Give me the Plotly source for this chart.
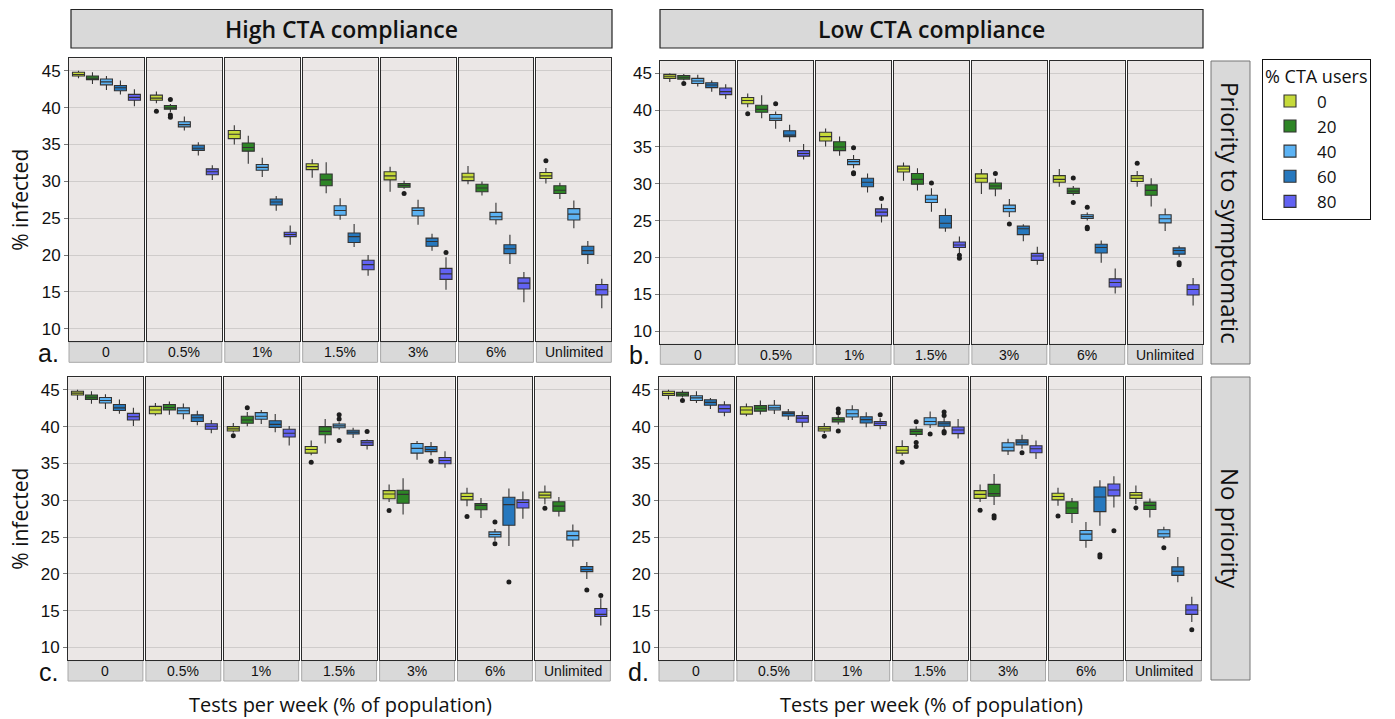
import plotly.graph_objects as go

TESTS = ["0", "0.5%", "1%", "1.5%", "3%", "6%", "Unlimited"]
USERS = ["0", "20", "40", "60", "80"]
COLORS = ["#C6DA3A", "#2E8526", "#5BB2F3", "#2678BE", "#6262F2"]

# ---------- Panel a: High CTA compliance / Priority to symptomatic ----------
A_Q1 = [[44.3, 43.8, 43.1, 42.3, 41.0], [41.0, 39.8, 37.4, 34.2, 30.9], [35.8, 34.1, 31.5, 26.8, 22.5],
        [31.6, 29.4, 25.4, 21.7, 18.0], [30.2, 29.2, 25.3, 21.2, 16.7], [30.1, 28.6, 24.8, 20.2, 15.4],
        [30.4, 28.35, 24.75, 20.1, 14.6]]
A_MED = [[44.5, 44.0, 43.5, 42.7, 41.4], [41.3, 40.0, 37.7, 34.5, 31.3], [36.4, 34.6, 31.9, 27.2, 22.8],
         [32.0, 30.2, 26.05, 22.5, 18.7], [30.75, 29.45, 26.05, 21.85, 17.45], [30.6, 29.1, 25.2, 20.85, 16.2],
         [30.75, 28.8, 25.55, 20.6, 15.3]]
A_Q3 = [[44.8, 44.3, 43.9, 43.0, 41.8], [41.7, 40.3, 38.1, 34.9, 31.7], [36.9, 35.2, 32.3, 27.6, 23.1],
        [32.4, 31.0, 26.7, 23.0, 19.3], [31.3, 29.7, 26.4, 22.3, 18.2], [31.1, 29.6, 25.8, 21.4, 16.9],
        [31.2, 29.4, 26.3, 21.2, 16.0]]
A_LO = [[44.0, 43.2, 42.4, 41.8, 40.2], [40.6, 39.4, 36.9, 33.5, 30.2], [35.0, 32.4, 30.6, 26.0, 21.4],
        [30.5, 28.4, 24.8, 21.1, 17.2], [28.6, 29.0, 24.1, 20.6, 15.3], [29.6, 28.1, 24.15, 18.8, 13.6],
        [29.7, 27.6, 23.65, 18.8, 12.8]]
A_HI = [[45.0, 44.8, 44.3, 43.7, 42.5], [42.2, 40.5, 38.8, 35.3, 32.2], [37.6, 36.2, 33.2, 28.0, 24.0],
        [33.0, 32.6, 27.7, 24.2, 20.0], [32.0, 30.1, 27.5, 22.9, 19.7], [32.1, 30.0, 27.1, 22.75, 17.7],
        [31.8, 29.8, 27.4, 21.9, 16.8]]
A_OUT = [(1, 0, 39.5), (1, 1, 41.1), (1, 1, 39.0), (1, 1, 38.7), (4, 1, 28.35), (4, 4, 20.35), (6, 0, 32.8)]

# ---------- Panel b: Low CTA compliance / Priority to symptomatic ----------
B_Q1 = [[44.3, 44.2, 43.6, 43.05, 42.1], [40.85, 39.7, 38.6, 36.4, 33.75], [35.8, 34.5, 32.6, 29.6, 25.65],
        [31.6, 29.95, 27.45, 24.0, 21.35], [30.2, 29.3, 26.2, 23.1, 19.6], [30.2, 28.7, 25.3, 20.6, 16.0],
        [30.3, 28.45, 24.7, 20.45, 14.9]]
B_MED = [[44.6, 44.45, 43.95, 43.4, 42.5], [41.3, 40.1, 38.9, 36.6, 34.1], [36.4, 35.0, 33.0, 30.2, 26.15],
         [32.0, 30.6, 27.9, 24.65, 21.7], [30.75, 29.7, 26.65, 23.9, 20.2], [30.6, 29.0, 25.55, 21.35, 16.6],
         [30.75, 29.1, 25.25, 20.95, 15.65]]
B_Q3 = [[44.85, 44.7, 44.3, 43.7, 43.0], [41.7, 40.65, 39.4, 37.2, 34.5], [37.0, 35.7, 33.3, 30.75, 26.6],
        [32.4, 31.4, 28.45, 25.7, 22.1], [31.35, 30.1, 27.1, 24.25, 20.55], [31.1, 29.4, 25.8, 21.8, 17.1],
        [31.1, 29.85, 25.8, 21.3, 16.3]]
B_LO = [[43.8, 44.0, 43.2, 42.5, 41.5], [40.4, 38.9, 37.45, 35.7, 33.3], [35.05, 33.8, 32.1, 28.8, 24.75],
        [30.4, 29.1, 26.2, 23.5, 20.6], [28.6, 28.3, 25.5, 22.2, 19.0], [29.6, 28.4, 25.0, 19.3, 15.1],
        [29.6, 26.9, 23.6, 20.05, 13.5]]
B_HI = [[45.0, 44.9, 44.8, 44.0, 43.5], [42.25, 42.0, 39.8, 38.0, 35.4], [37.5, 36.4, 33.9, 31.4, 27.3],
        [32.9, 32.1, 29.4, 26.65, 22.85], [32.0, 30.7, 27.95, 24.5, 21.45], [32.0, 29.7, 26.1, 22.3, 18.5],
        [31.75, 30.75, 26.65, 21.6, 17.2]]
B_OUT = [(0, 1, 43.6), (1, 0, 39.5), (1, 2, 40.85), (2, 2, 34.9), (2, 2, 31.5), (2, 2, 31.35), (2, 4, 28.0),
         (3, 2, 30.1), (3, 4, 20.3), (3, 4, 19.9), (4, 1, 31.4), (4, 2, 24.55), (5, 1, 30.8), (5, 1, 27.45),
         (5, 2, 26.8), (5, 2, 24.1), (5, 2, 23.9), (6, 0, 32.8), (6, 3, 19.3), (6, 3, 19.0)]

# ---------- Panel c: High CTA compliance / No priority ----------
C_Q1 = [[44.3, 43.7, 43.2, 42.2, 40.9], [41.75, 42.25, 41.75, 40.7, 39.65], [39.4, 40.45, 41.0, 39.9, 38.6],
        [36.4, 38.9, 39.85, 39.0, 37.45], [30.2, 29.6, 36.4, 36.6, 34.95], [30.05, 28.7, 25.0, 26.6, 28.95],
        [30.3, 28.5, 24.6, 20.3, 14.2]]
C_MED = [[44.55, 44.0, 43.55, 42.55, 41.35], [42.25, 42.6, 42.15, 41.2, 40.05], [39.7, 40.9, 41.4, 40.3, 39.1],
         [36.9, 39.35, 40.1, 39.25, 37.8], [30.85, 30.8, 37.05, 36.9, 35.4], [30.5, 29.3, 25.35, 29.4, 29.7],
         [30.7, 29.2, 25.2, 20.6, 14.5]]
C_Q3 = [[44.8, 44.3, 43.95, 43.0, 41.8], [42.75, 43.0, 42.55, 41.6, 40.4], [40.0, 41.4, 41.9, 40.8, 39.65],
        [37.3, 40.0, 40.35, 39.5, 38.1], [31.3, 31.35, 37.7, 37.3, 35.8], [30.95, 29.55, 25.7, 30.4, 30.05],
        [31.1, 29.8, 25.8, 21.0, 15.3]]
C_LO = [[43.6, 43.1, 42.4, 41.75, 40.1], [41.5, 41.6, 41.0, 40.2, 39.1], [39.2, 40.05, 40.35, 39.25, 37.45],
        [36.1, 37.7, 39.6, 38.45, 36.9], [29.75, 28.05, 35.5, 36.1, 34.4], [29.2, 27.6, 24.5, 23.8, 27.5],
        [29.45, 27.8, 23.7, 19.3, 13.0]]
C_HI = [[45.0, 44.8, 44.4, 43.7, 42.55], [43.2, 43.4, 43.15, 42.15, 40.9], [40.5, 42.0, 42.25, 41.7, 40.1],
        [38.1, 41.05, 40.6, 39.85, 38.25], [32.15, 33.0, 38.05, 37.9, 36.65], [31.7, 30.3, 26.1, 31.6, 31.2],
        [32.0, 30.45, 26.7, 21.6, 16.7]]
C_OUT = [(2, 0, 38.75), (2, 1, 42.55), (3, 0, 35.15), (3, 2, 41.6), (3, 2, 41.05), (3, 2, 38.1), (3, 4, 39.35),
         (4, 0, 28.6), (4, 3, 35.3), (5, 0, 27.8), (5, 2, 27.05), (5, 2, 24.1), (5, 3, 18.9), (6, 0, 28.9),
         (6, 3, 17.8), (6, 4, 17.05)]

# ---------- Panel d: Low CTA compliance / No priority ----------
D_Q1 = [[44.25, 44.15, 43.55, 42.9, 41.95], [41.7, 42.1, 42.25, 41.45, 40.6], [39.4, 40.65, 41.3, 40.5, 40.15],
        [36.4, 38.95, 40.25, 40.05, 39.05], [30.25, 30.55, 36.7, 37.5, 36.45], [30.05, 28.2, 24.55, 28.45, 30.6],
        [30.25, 28.75, 25.0, 19.8, 14.5]]
D_MED = [[44.5, 44.4, 43.9, 43.3, 42.45], [42.25, 42.5, 42.55, 41.8, 41.15], [39.7, 40.95, 41.75, 40.95, 40.45],
         [36.8, 39.35, 40.7, 40.4, 39.55], [30.8, 30.9, 37.2, 37.9, 37.0], [30.5, 28.95, 25.4, 30.45, 31.4],
         [30.7, 29.3, 25.45, 20.35, 15.1]]
D_Q3 = [[44.8, 44.65, 44.2, 43.65, 42.95], [42.7, 42.85, 42.9, 42.0, 41.5], [40.0, 41.2, 42.3, 41.35, 40.7],
        [37.3, 39.65, 41.2, 40.65, 39.95], [31.3, 32.15, 37.8, 38.2, 37.4], [30.95, 29.8, 25.9, 31.8, 32.2],
        [31.05, 29.75, 26.0, 20.95, 15.8]]
D_LO = [[43.7, 43.95, 43.2, 42.4, 41.4], [41.4, 41.65, 41.7, 40.9, 39.9], [39.15, 40.3, 40.9, 39.9, 39.65],
        [36.05, 38.65, 39.8, 39.6, 38.4], [29.75, 29.35, 36.15, 37.0, 35.6], [29.25, 26.9, 23.55, 26.55, 29.0],
        [29.5, 27.65, 24.75, 18.85, 13.45]]
D_HI = [[45.0, 44.9, 44.8, 43.9, 43.45], [43.15, 43.55, 43.6, 42.4, 42.05], [40.5, 41.55, 42.9, 41.95, 41.15],
        [38.15, 40.05, 42.05, 41.2, 41.05], [32.15, 33.55, 38.35, 38.9, 38.1], [31.7, 30.3, 27.05, 32.7, 33.25],
        [32.0, 30.25, 26.4, 22.3, 16.9]]
D_OUT = [(0, 1, 43.55), (2, 0, 38.7), (2, 1, 42.4), (2, 1, 41.9), (2, 1, 39.4), (2, 4, 41.6), (3, 0, 35.15),
         (3, 1, 40.65), (3, 1, 37.85), (3, 1, 37.3), (3, 2, 39.0), (3, 3, 42.0), (3, 3, 41.5), (3, 3, 39.35),
         (3, 3, 39.15), (4, 0, 28.65), (4, 1, 27.9), (4, 1, 27.6), (4, 3, 36.45), (5, 0, 27.85), (5, 3, 22.6),
         (5, 3, 22.3), (5, 4, 25.85), (6, 0, 28.95), (6, 2, 23.55), (6, 4, 12.4)]

Y_TICKS = [10, 15, 20, 25, 30, 35, 40, 45]
Y_RANGE = [8.3, 46.7]
X_RANGE = [-0.68, 4.68]

W, H = 1395, 719


def fx(px):
    return px / W


def fy(py):
    return 1 - py / H


# panel geometry in pixels: (label, data, left, top, bottom, strip bottom)
PANELS = [
    ("a.", (A_Q1, A_MED, A_Q3, A_LO, A_HI, A_OUT), 69.0, 58.3, 341.3, 362.3),
    ("b.", (B_Q1, B_MED, B_Q3, B_LO, B_HI, B_OUT), 660.3, 60.7, 343.7, 364.3),
    ("c.", (C_Q1, C_MED, C_Q3, C_LO, C_HI, C_OUT), 68.0, 377.3, 660.0, 681.0),
    ("d.", (D_Q1, D_MED, D_Q3, D_LO, D_HI, D_OUT), 659.0, 377.3, 660.0, 681.0),
]
SUB_W = 74.9
PITCH = 77.9

fig = go.Figure()
layout = {}
shapes = []
annotations = []
STRIP_FILL = "#D9D9D9"
TXT = "#111111"

k = 0
for p_i, (lab, data, left, top, bot, sbot) in enumerate(PANELS):
    q1s, meds, q3s, los, his, outs = data
    for s in range(len(TESTS)):
        k += 1
        sfx = "" if k == 1 else str(k)
        x0 = left + s * PITCH
        x1 = x0 + SUB_W
        layout["xaxis" + sfx] = dict(
            domain=[fx(x0), fx(x1)], anchor="y" + sfx, range=X_RANGE,
            showticklabels=False, ticks="", showgrid=False, zeroline=False,
            showline=True, mirror=True, linecolor="#2b2b2b", linewidth=1, fixedrange=True)
        layout["yaxis" + sfx] = dict(
            domain=[fy(bot), fy(top)], anchor="x" + sfx, range=Y_RANGE,
            tickvals=Y_TICKS, showticklabels=(s == 0), ticks="outside" if s == 0 else "",
            ticklen=4, tickcolor="#777777", tickwidth=1,
            tickfont=dict(family="Liberation Sans, Arial", size=17, color=TXT),
            showgrid=True, gridcolor="#CFCCCB", gridwidth=1.4, zeroline=False,
            showline=True, mirror=True, linecolor="#2b2b2b", linewidth=1, fixedrange=True)
        xr = "x" + sfx
        yr = "y" + sfx
        for g in range(len(USERS)):
            fig.add_trace(go.Box(
                x=[g], q1=[q1s[s][g]], median=[meds[s][g]], q3=[q3s[s][g]],
                lowerfence=[los[s][g]], upperfence=[his[s][g]],
                width=0.86, whiskerwidth=0, boxpoints=False,
                fillcolor=COLORS[g], line=dict(color="#333333", width=1.1),
                name=USERS[g], legendgroup=USERS[g], showlegend=(k == 1),
                xaxis=xr, yaxis=yr, hoverinfo="skip"))
        ox = [o[1] for o in outs if o[0] == s]
        oy = [o[2] for o in outs if o[0] == s]
        if ox:
            fig.add_trace(go.Scatter(
                x=ox, y=oy, mode="markers", marker=dict(size=5, color="#1e1e1e"),
                showlegend=False, xaxis=xr, yaxis=yr, hoverinfo="skip"))
        # strip below sub-panel
        shapes.append(dict(type="rect", xref="paper", yref="paper",
                           x0=fx(x0), x1=fx(x1), y0=fy(sbot), y1=fy(bot + 0.6),
                           fillcolor=STRIP_FILL, line=dict(color="#A8A8A8", width=1), layer="below"))
        annotations.append(dict(text=TESTS[s], xref="paper", yref="paper",
                                x=fx((x0 + x1) / 2), y=fy((bot + sbot) / 2 + 0.5),
                                showarrow=False, xanchor="center", yanchor="middle",
                                font=dict(family="Liberation Sans, Arial", size=14, color=TXT)))
    # panel letter
    annotations.append(dict(text=lab, xref="paper", yref="paper",
                            x=fx(left - 8), y=fy((bot + sbot) / 2 + 1), showarrow=False,
                            xanchor="right", yanchor="middle",
                            font=dict(family="Liberation Sans, Arial", size=25, color=TXT)))

# column headers
for (txt, hx0, hx1) in [("High CTA compliance", 71, 612), ("Low CTA compliance", 660, 1203)]:
    shapes.append(dict(type="rect", xref="paper", yref="paper", x0=fx(hx0), x1=fx(hx1),
                       y0=fy(48), y1=fy(9.5), fillcolor=STRIP_FILL, line=dict(color="#222222", width=1.2)))
    annotations.append(dict(text=txt, xref="paper", yref="paper", x=fx((hx0 + hx1) / 2), y=fy(29),
                            showarrow=False, xanchor="center", yanchor="middle",
                            font=dict(family="Open Sans", size=23, color=TXT, weight=600)))

# row strips on the right
for (txt, ry0, ry1) in [("Priority to symptomatic", 61, 364), ("No priority", 377, 680)]:
    shapes.append(dict(type="rect", xref="paper", yref="paper", x0=fx(1211), x1=fx(1250),
                       y0=fy(ry1), y1=fy(ry0), fillcolor=STRIP_FILL, line=dict(color="#777777", width=1)))
    annotations.append(dict(text=txt, xref="paper", yref="paper", x=fx(1230.5), y=fy((ry0 + ry1) / 2),
                            showarrow=False, xanchor="center", yanchor="middle", textangle=90,
                            font=dict(family="Open Sans", size=24, color=TXT)))

# axis titles
for cy in [(58.3 + 341.3) / 2, (377.3 + 660) / 2]:
    annotations.append(dict(text="% infected", xref="paper", yref="paper", x=fx(20), y=fy(cy),
                            showarrow=False, xanchor="center", yanchor="middle", textangle=-90,
                            font=dict(family="Open Sans", size=21, color=TXT)))
for cx in [340, 931]:
    annotations.append(dict(text="Tests per week (% of population)", xref="paper", yref="paper",
                            x=fx(cx), y=fy(704), showarrow=False, xanchor="center", yanchor="middle",
                            font=dict(family="Open Sans", size=20, color=TXT)))

layout.update(dict(
    width=W, height=H, autosize=False,
    margin=dict(l=0, r=0, t=0, b=0, pad=0),
    paper_bgcolor="white", plot_bgcolor="#EBE7E6",
    boxmode="overlay",
    shapes=shapes, annotations=annotations,
    legend=dict(x=fx(1262), y=fy(59), xanchor="left", yanchor="top",
                bordercolor="#111111", borderwidth=1, bgcolor="white",
                title=dict(text="% CTA users", font=dict(family="Open Sans", size=18, color=TXT)),
                font=dict(family="Open Sans", size=17, color=TXT),
                itemwidth=44, tracegroupgap=0),
))
fig.update_layout(**layout)
fig.write_html("out.html", config={"displayModeBar": False},
               post_script="document.body.style.margin='0';document.body.style.padding='0';")
